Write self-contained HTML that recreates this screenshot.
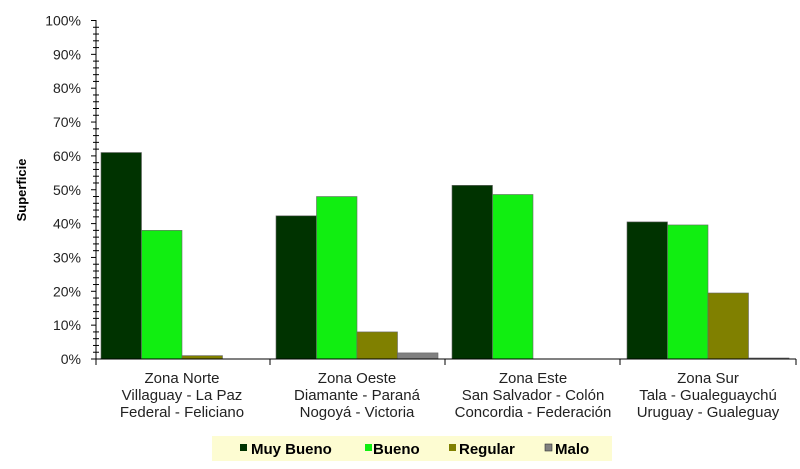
<!DOCTYPE html>
<html><head><meta charset="utf-8"><style>html,body{margin:0;padding:0;background:#fff}svg{display:block}</style></head><body>
<svg width="800" height="469" xmlns="http://www.w3.org/2000/svg" font-family="Liberation Sans, Arial, sans-serif">
<rect width="800" height="469" fill="#fff"/>
<g id="bars" stroke="#666" stroke-width="0.6"></g>
<g stroke="#000" stroke-width="1">
<line x1="96" y1="20" x2="96" y2="359"/>
<line x1="96" y1="359" x2="796" y2="359"/>
</g>
<g id="ticks" stroke="#000" stroke-width="1"></g>
<g id="ylab" font-size="14" fill="#222" text-anchor="end"></g>
<text transform="translate(26,190) rotate(-90)" font-size="13" font-weight="bold" text-anchor="middle">Superficie</text>
<g font-size="15" text-anchor="middle" fill="#222">
<text x="182" y="383">Zona Norte</text><text x="182" y="400">Villaguay - La Paz</text><text x="182" y="417">Federal - Feliciano</text>
<text x="357" y="383">Zona Oeste</text><text x="357" y="400">Diamante - Paraná</text><text x="357" y="417">Nogoyá - Victoria</text>
<text x="533" y="383">Zona Este</text><text x="533" y="400">San Salvador - Colón</text><text x="533" y="417">Concordia - Federación</text>
<text x="708" y="383">Zona Sur</text><text x="708" y="400">Tala - Gualeguaychú</text><text x="708" y="417">Uruguay - Gualeguay</text>
</g>
<rect x="212" y="436" width="400" height="25" fill="#fdfcd2"/>
<g font-size="15" font-weight="bold" fill="#000">
<rect x="240" y="444" width="7" height="7" fill="#003300"/><text x="251" y="454">Muy Bueno</text>
<rect x="365" y="444" width="7" height="7" fill="#11ee11"/><text x="373" y="454">Bueno</text>
<rect x="449" y="444" width="7" height="7" fill="#808000"/><text x="459" y="454">Regular</text>
<rect x="545" y="444" width="7" height="7" fill="#808080" stroke="#333" stroke-width="0.6"/><text x="555" y="454">Malo</text>
</g>
<script>
var ns="http://www.w3.org/2000/svg";
function el(p,t,a){var e=document.createElementNS(ns,t);for(var k in a)e.setAttribute(k,a[k]);p.appendChild(e);return e;}
var y0=359,s=3.385;
var data=[[61,38,1,0],[42.3,48,8,1.8],[51.3,48.6,0,0],[40.5,39.6,19.5,0.3]];
var cols=["#003300","#11ee11","#808000","#808080"];
var starts=[101,276,452,627];
var b=document.getElementById("bars");
data.forEach(function(g,i){g.forEach(function(v,j){if(v<=0)return;var h=v*s;el(b,"rect",{x:starts[i]+j*40.5,y:y0-h,width:40.5,height:h,fill:cols[j]});});});
var t=document.getElementById("ticks"),yl=document.getElementById("ylab");
for(var p=0;p<=100;p+=2){var y=y0-p*s;if(p%10==0){el(t,"line",{x1:91,y1:y,x2:96,y2:y});var tx=el(yl,"text",{x:81,y:y+5});tx.textContent=p+"%";}else{el(t,"line",{x1:93,y1:y,x2:99,y2:y});}}
[96,270,445,620,796].forEach(function(x){el(t,"line",{x1:x,y1:359,x2:x,y2:365});});
</script>
</svg>
</body></html>
